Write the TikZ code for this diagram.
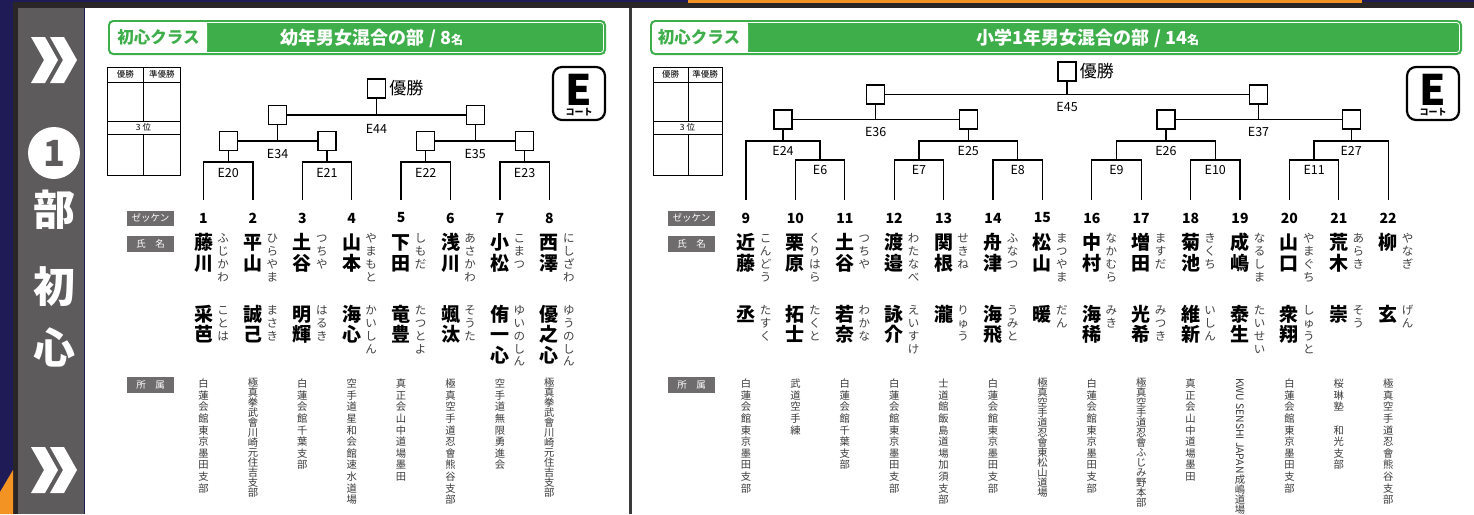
\documentclass[tikz,border=0pt]{standalone}
\usepackage{fontspec}
\usepackage{graphicx}
\setmainfont{Noto Sans CJK JP}
\usetikzlibrary{calc}
\definecolor{navy}{HTML}{1F1B57}
\definecolor{darkband}{HTML}{2A2627}
\definecolor{sidegray}{HTML}{5E5B5C}
\definecolor{labgray}{HTML}{6F6C6D}
\definecolor{hgreen}{HTML}{3DAE4A}
\definecolor{orng}{HTML}{F39323}
\definecolor{sepgray}{HTML}{3A3A3A}
\definecolor{affgray}{HTML}{3A3A3A}
\definecolor{furi}{HTML}{404040}
\newlength\vtl
\newcommand\vstk[2]{\setlength\vtl{#1}\vbox{\offinterlineskip\vstkloop#2\relax}}
\def\vstkloop#1{\ifx#1\relax\else\hbox{\vrule height 0.82\vtl depth 0.18\vtl width 0pt\hbox to 1em{\hss\smash{#1}\hss}}\expandafter\vstkloop\fi}
\newcommand\aff[1]{\vstk{11.6pt}{#1}}
\newcommand\affc[1]{\vstk{10pt}{#1}}
\newcommand\affkwu{\vbox{\offinterlineskip\hbox to 1em{\hss\rotatebox{-90}{KWU SENSHI JAPAN}\hss}\kern1pt\setlength\vtl{10.3pt}\vstkloop 成嶋道場\relax}}
\newcommand\player[7]{%
  \node[num] (n#1) at (#2,218) {#1};
  \node[kj] (sn#1) at (#2,232) {\vstk{21pt}{#3}};
  \node[fr] (sf#1) at ({#2+19.5},232) {\vstk{12.8pt}{#4}};
  \node[kj] (gn#1) at (#2,304) {\vstk{20.5pt}{#5}};
  \node[fr] (gf#1) at ({#2+19.5},304) {\vstk{12.8pt}{#6}};
  \node[af] (af#1) at (#2,378) {#7};
}
\newcommand\header[7]{% prefix, xl, xsplit, xr, class x, title x, title
  \fill[hgreen,rounded corners=5pt] (#2,20) rectangle (#4,55);
  \fill[white,rounded corners=3pt] ({#2+2.5},22.5) rectangle (#3,52.5);
  \fill[white] ({#3-5},22.5) rectangle (#3,52.5);
  \draw[white,line width=0.8pt,rounded corners=3pt] ({#2+2.5},22.5) rectangle ({#4-2.5},52.5);
  \node[text=hgreen,inner sep=0pt,font=\bfseries\fontsize{16.5}{16.5}\selectfont] (#1cls) at (#5,37.5) {初心クラス};
  \node[text=white,inner sep=0pt,font=\bfseries\fontsize{18}{18}\selectfont] (#1ttl) at (#6,38) {#7};
}
\newcommand\restable[4]{% prefix, xl, xm, xr
  \draw[tline] (#2,67) rectangle (#4,175);
  \draw[tline] (#3,67) -- (#3,121) (#3,134) -- (#3,175);
  \draw[tline] (#2,82) -- (#4,82) (#2,121) -- (#4,121) (#2,134) -- (#4,134);
  \node[tt] (#1win) at ({(#2+#3)/2},74.5) {優勝};
  \node[tt] (#1run) at ({(#3+#4)/2},74.5) {準優勝};
  \node[tt] (#1third) at ({(#2+#4)/2},127.5) {3 位};
}
\newcommand\court[3]{% prefix, xl, xr
  \draw[line width=2.2pt,rounded corners=9pt] (#2,67) rectangle (#3,120);
  \node[inner sep=0pt,font=\bfseries\fontsize{42}{42}\selectfont] (#1E) at ({(#2+#3)/2},90) {E};
  \node[inner sep=0pt,font=\bfseries\fontsize{9}{9}\selectfont] (#1ct) at ({(#2+#3)/2},112.5) {コート};
}
\newcommand\ubr[4]{% left, right, y, name
  \draw[brk] (#1) -- (#1 |- 0,#3) -- (#2 |- 0,#3) -- (#2);
  \coordinate (#4) at ($(#1 |- 0,#3)!0.5!(#2 |- 0,#3)$);
}
\begin{document}
\begin{tikzpicture}[x=1pt,y=-1pt,
  wbox/.style={draw,line width=1.3pt,fill=white,minimum width=18pt,minimum height=19pt,inner sep=0pt},
  brk/.style={line width=1.3pt},
  elab/.style={inner sep=0pt,font=\fontsize{12.5}{12.5}\selectfont},
  num/.style={inner sep=0pt,font=\bfseries\fontsize{14}{14}\selectfont},
  kj/.style={anchor=north,inner sep=0pt,font=\bfseries\fontsize{19}{19}\selectfont},
  fr/.style={anchor=north,inner sep=0pt,text=furi,font=\fontsize{11.5}{11.5}\selectfont},
  af/.style={anchor=north,inner sep=0pt,text=affgray,font=\fontsize{10.3}{10.3}\selectfont},
  glab/.style={fill=labgray,text=white,inner sep=0pt,minimum width=47pt,font=\fontsize{9.5}{9.5}\selectfont},
  tline/.style={line width=0.8pt},
  tt/.style={inner sep=0pt,font=\fontsize{8.5}{8.5}\selectfont},
  side/.style={text=white,inner sep=0pt,font=\bfseries\fontsize{42}{42}\selectfont},
  champ/.style={inner sep=0pt,anchor=west,font=\fontsize{17}{17}\selectfont}]
\useasboundingbox (0,0) rectangle (1474,514);
% background
\fill[navy] (0,0) rectangle (1474,514);
\fill[darkband] (13,2) rectangle (1474,8);
\fill[darkband] (13,8) rectangle (18,514);
\fill[orng] (688,0) rectangle (1362,2.5);
\fill[orng] (0,514) -- (0,492) -- (13,470) -- (13,514) -- cycle;
\fill[sidegray] (18,8) rectangle (84,514);
\fill[white] (85,8) rectangle (629,514);
\fill[sepgray] (629,8) rectangle (632,514);
\fill[white] (632,8) rectangle (1474,514);
% sidebar
\fill[white] (31,37) -- (45,37) -- (58,60) -- (45,83) -- (31,83) -- (44,60) -- cycle;
\fill[white] (50,37) -- (64,37) -- (77,60) -- (64,83) -- (50,83) -- (63,60) -- cycle;
\fill[white] (31,447) -- (45,447) -- (58,470) -- (45,493) -- (31,493) -- (44,470) -- cycle;
\fill[white] (50,447) -- (64,447) -- (77,470) -- (64,493) -- (50,493) -- (63,470) -- cycle;
\fill[white] (54,153) circle (26);
\node[inner sep=0pt,text=sidegray,font=\bfseries\fontsize{36}{36}\selectfont] (one) at (54,153) {1};
\node[side] (bu) at (54,210) {部};
\node[side] (sho) at (54,287) {初};
\node[side] (shin) at (54,347) {心};
% headers
\header{L}{108}{207}{606}{158.5}{372}{幼年男女混合の部 / 8{\fontsize{12}{12}\selectfont 名}}
\header{R}{650}{748}{1462}{699}{1088}{小学1年男女混合の部 / 14{\fontsize{12}{12}\selectfont 名}}
\restable{L}{107}{143.5}{180}
\restable{R}{653}{688}{722}
\court{L}{553}{605}
\court{R}{1407}{1459}
% row labels
\node[glab,minimum height=15pt] (zkL) at (150.5,218) {ゼッケン};
\node[glab,minimum height=16pt] (nmL) at (150.5,244) {氏　名};
\node[glab,minimum height=16pt] (afL) at (150.5,385) {所　属};
\node[glab,minimum height=15pt] (zkR) at (691.5,218) {ゼッケン};
\node[glab,minimum height=16pt] (nmR) at (691.5,244) {氏　名};
\node[glab,minimum height=16pt] (afR) at (691.5,385) {所　属};
% players left
\player{1}{203.5}{藤川}{ふじかわ}{采芭}{ことは}{\aff{白蓮会館東京墨田支部}}
\player{2}{252.9}{平山}{ひらやま}{誠己}{まさき}{\affc{極真拳武會川崎元住吉支部}}
\player{3}{302.3}{土谷}{つちや}{明輝}{はるき}{\aff{白蓮会館千葉支部}}
\player{4}{351.7}{山本}{やまもと}{海心}{かいしん}{\aff{空手道星和会館速水道場}}
\player{5}{401.1}{下田}{しもだ}{竜豊}{たつとよ}{\aff{真正会山中道場墨田}}
\player{6}{450.5}{浅川}{あさかわ}{颯汰}{そうた}{\aff{極真空手道忍會熊谷支部}}
\player{7}{499.9}{小松}{こまつ}{侑一心}{ゆいのしん}{\aff{空手道無限勇進会}}
\player{8}{549.3}{西澤}{にしざわ}{優之心}{ゆうのしん}{\affc{極真拳武會川崎元住吉支部}}
% players right
\player{9}{746}{近藤}{こんどう}{丞}{たすく}{\aff{白蓮会館東京墨田支部}}
\player{10}{795.4}{栗原}{くりはら}{拓士}{たくと}{\aff{武道空手練}}
\player{11}{844.8}{土谷}{つちや}{若奈}{わかな}{\aff{白蓮会館千葉支部}}
\player{12}{894.2}{渡邉}{わたなべ}{詠介}{えいすけ}{\aff{白蓮会館東京墨田支部}}
\player{13}{943.6}{関根}{せきね}{瀧}{りゅう}{\aff{士道館飯島道場加須支部}}
\player{14}{993}{舟津}{ふなつ}{海飛}{うみと}{\aff{白蓮会館東京墨田支部}}
\player{15}{1042.4}{松山}{まつやま}{暖}{だん}{\affc{極真空手道忍會東松山道場}}
\player{16}{1091.8}{中村}{なかむら}{海稀}{みき}{\aff{白蓮会館東京墨田支部}}
\player{17}{1141.2}{増田}{ますだ}{光希}{みつき}{\affc{極真空手道忍會ふじみ野本部}}
\player{18}{1190.6}{菊池}{きくち}{維新}{いしん}{\aff{真正会山中道場墨田}}
\player{19}{1240}{成嶋}{なるしま}{泰生}{たいせい}{\affkwu}
\player{20}{1289.4}{山口}{やまぐち}{衆翔}{しゅうと}{\aff{白蓮会館東京墨田支部}}
\player{21}{1338.8}{荒木}{あらき}{崇}{そう}{\aff{桜琳塾　和光支部}}
\player{22}{1388.2}{柳}{やなぎ}{玄}{げん}{\aff{極真空手道忍會熊谷支部}}
% bracket bottoms
\foreach \i/\x in {1/203.5,2/252.9,3/302.3,4/351.7,5/401.1,6/450.5,7/499.9,8/549.3,
  9/746,10/795.4,11/844.8,12/894.2,13/943.6,14/993,15/1042.4,16/1091.8,17/1141.2,
  18/1190.6,19/1240,20/1289.4,21/1338.8,22/1388.2}
  \coordinate (b\i) at (\x,200);
% ---- left bracket
\ubr{b1}{b2}{162}{t20}
\ubr{b3}{b4}{162}{t21}
\ubr{b5}{b6}{162}{t22}
\ubr{b7}{b8}{162}{t23}
\foreach \m in {20,21,22,23}{
  \node[wbox] (s\m) at (t\m |- 0,141) {};
  \draw[brk] (s\m.south) -- (t\m);
  \node[elab] (lE\m) at (t\m |- 0,173) {E\m};
}
\coordinate (m34) at ($(s20)!0.5!(s21)$);
\coordinate (m35) at ($(s22)!0.5!(s23)$);
\draw[brk] (s20.east) -- (s21.west);
\draw[brk] (s22.east) -- (s23.west);
\node[wbox] (f34) at (m34 |- 0,115) {};
\node[wbox] (f35) at (m35 |- 0,115) {};
\draw[brk] (f34.south) -- (m34);
\draw[brk] (f35.south) -- (m35);
\node[elab] (lE34) at (m34 |- 0,154) {E34};
\node[elab] (lE35) at (m35 |- 0,154) {E35};
\coordinate (m44) at ($(f34)!0.5!(f35)$);
\draw[brk] (f34.east) -- (f35.west);
\node[wbox] (champL) at (m44 |- 0,88.5) {};
\draw[brk] (champL.south) -- (m44);
\node[elab] (lE44) at (m44 |- 0,128.5) {E44};
\node[champ] (cwL) at ([xshift=3pt]champL.east) {優勝};
% ---- right bracket
\ubr{b10}{b11}{160}{t6}
\ubr{b12}{b13}{160}{t7}
\ubr{b14}{b15}{160}{t8}
\ubr{b16}{b17}{160}{t9}
\ubr{b18}{b19}{160}{t10}
\ubr{b20}{b21}{160}{t11}
\foreach \m in {6,7,8,9,10,11}
  \node[elab] (lE\m) at (t\m |- 0,170) {E\m};
\ubr{b9}{t6}{141}{t24}
\ubr{t7}{t8}{141}{t25}
\ubr{t9}{t10}{141}{t26}
\ubr{t11}{b22}{141}{t27}
\foreach \m in {24,25,26,27}{
  \node[wbox] (s\m) at (t\m |- 0,119.5) {};
  \draw[brk] (s\m.south) -- (t\m);
  \node[elab] (lE\m) at (t\m |- 0,151) {E\m};
}
\coordinate (m36) at ($(s24)!0.5!(s25)$);
\coordinate (m37) at ($(s26)!0.5!(s27)$);
\draw[brk] (s24.east) -- (s25.west);
\draw[brk] (s26.east) -- (s27.west);
\node[wbox] (f36) at (m36 |- 0,94.5) {};
\node[wbox] (f37) at (m37 |- 0,94.5) {};
\draw[brk] (f36.south) -- (m36);
\draw[brk] (f37.south) -- (m37);
\node[elab] (lE36) at (m36 |- 0,132) {E36};
\node[elab] (lE37) at (m37 |- 0,132) {E37};
\coordinate (m45) at ($(f36)!0.5!(f37)$);
\draw[brk] (f36.east) -- (f37.west);
\node[wbox] (champR) at (m45 |- 0,71.5) {};
\draw[brk] (champR.south) -- (m45);
\node[elab] (lE45) at (m45 |- 0,107) {E45};
\node[champ] (cwR) at ([xshift=3pt]champR.east) {優勝};
\end{tikzpicture}
\end{document}
